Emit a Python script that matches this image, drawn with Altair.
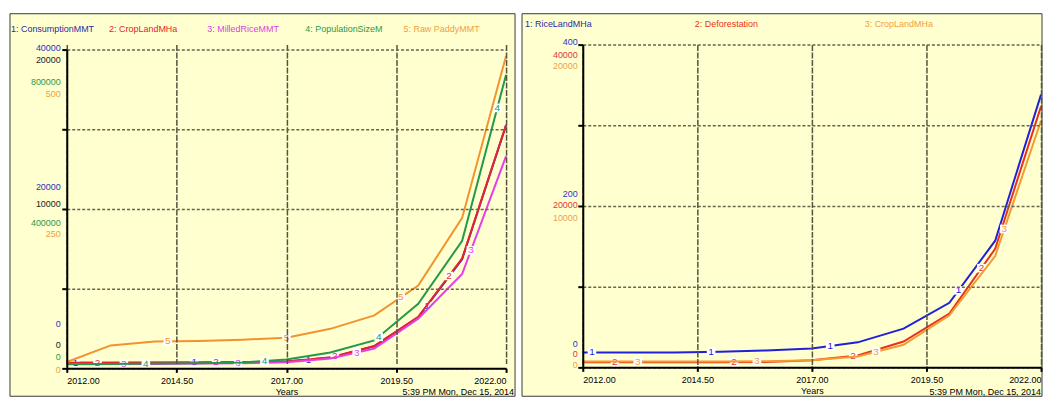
import altair as alt
import pandas as pd

years = [2012, 2013, 2014, 2015, 2016, 2017, 2018, 2019, 2020, 2021, 2022]

# ---- left panel series ----
left_names = ["1: ConsumptionMMT", "2: CropLandMHa", "3: MilledRiceMMT",
              "4: PopulationSizeM", "5: Raw PaddyMMT"]
consumption = [700, 710, 720, 740, 760, 860, 1350, 2780, 6400, 13700, 30500]
cropland = [360, 360, 365, 370, 380, 435, 680, 1400, 3230, 6900, 15280]
milled_rice = [7, 7, 7, 7.5, 8, 9.5, 15.5, 31, 78, 148, 333]
population = [10000, 11000, 12000, 13000, 15000, 22000, 40000, 70000, 162000, 320000, 737000]
raw_paddy = [10, 36, 42, 43, 45, 48, 62, 83, 130, 236, 490]

# ---- right panel series ----
right_names = ["1: RiceLandMHa", "2: Deforestation", "3: CropLandMHa"]
riceland = [18.5, 18.5, 18.5, 19.5, 21, 23.5, 31, 48, 80, 157, 338]
deforestation = [620, 620, 620, 630, 650, 870, 1480, 3200, 6670, 14700, 32350]

# scale label values
consumption_ticks = [0, 20000, 40000]
cropland_ticks = [0, 10000, 20000]
population_ticks = [0, 400000, 800000]
paddy_ticks = [0, 250, 500]
riceland_ticks = [0, 200, 400]
deforestation_ticks = [0, 20000, 40000]
x_ticks = [2012, 2014.5, 2017, 2019.5, 2022]
date_text = "5:39 PM  Mon, Dec 15, 2014"

# times where the numbered markers sit on each line
left_marks = [[2012.2, 2014.9, 2017.5, 2020.2], [2012.7, 2015.4, 2018.1, 2020.7],
              [2013.3, 2015.9, 2018.6, 2021.2], [2013.8, 2016.5, 2019.1, 2021.8],
              [2014.3, 2017.0, 2019.6]]
right_marks = [[2012.2, 2014.8, 2017.4, 2020.2], [2012.7, 2015.3, 2017.9, 2020.7],
               [2013.2, 2015.8, 2018.4, 2021.2]]

FONT = "Liberation Sans, Arial, sans-serif"
BG = "#FFFFD0"
GRID = "#66664c"


def x_axis():
    return alt.Axis(values=x_ticks, format=".2f", title="Years", grid=True,
                    gridColor="#55553f", gridDash=[6, 1.5], gridWidth=1.5,
                    domainColor="black", domainWidth=2, tickColor="black", tickSize=4,
                    tickWidth=2, labelFont=FONT, labelFontSize=9, labelColor="black",
                    labelPadding=4, labelFlush=True, labelOverlap=False,
                    titleFont=FONT, titleFontSize=9, titleFontWeight="normal",
                    titleColor="black", titlePadding=2, zindex=1)


def main_y_axis(values):
    return alt.Axis(orient="left", values=values, labels=False, title=None,
                    ticks=True, tickColor="black", tickSize=5, tickWidth=2,
                    domain=True, domainColor="black", domainWidth=2,
                    grid=True, gridColor=GRID, gridDash=[3, 2], gridWidth=1.5, zindex=1)


def series_layers(values, color, num, marks, domain, H, top, ylabels=None, label_color=None,
                  lab_x=-6, yaxis=None, xaxis=None):
    df = pd.DataFrame({"year": years, "v": values})
    recs = df.to_dict("records")
    xs = alt.Scale(domain=[2012, 2022], nice=False, zero=False)
    ys = alt.Scale(domain=domain, nice=False, zero=False, range=[H, top])
    if xaxis is None:
        xenc = alt.X("year:Q", scale=xs, axis=None)
    else:
        xenc = alt.X("year:Q", scale=xs, axis=xaxis)
    if yaxis is None:
        yenc = alt.Y("v:Q", scale=ys, axis=None)
    else:
        yenc = alt.Y("v:Q", scale=ys, axis=yaxis)
    layers = [alt.Chart(df).mark_line(color=color, strokeWidth=2).encode(x=xenc, y=yenc)]
    lab = (alt.Chart(pd.DataFrame({"t": marks}))
           .transform_calculate(y0="floor(datum.t)", y1="floor(datum.t) + 1")
           .transform_lookup(lookup="y0", from_=alt.LookupData(
               data=alt.InlineData(values=recs), key="year", fields=["v"]), as_=["v0"])
           .transform_lookup(lookup="y1", from_=alt.LookupData(
               data=alt.InlineData(values=recs), key="year", fields=["v"]), as_=["v1"])
           .transform_calculate(lv="datum.v0 + (datum.t - datum.y0) * (datum.v1 - datum.v0)"))
    enc = dict(x=alt.X("t:Q", scale=xs, axis=None), y=alt.Y("lv:Q", scale=ys, axis=None))
    layers.append(lab.mark_square(size=75, color="white", opacity=1).encode(**enc))
    layers.append(lab.mark_text(text=str(num), color=color, font=FONT, fontSize=10).encode(**enc))
    if ylabels:
        for val, dy in ylabels:
            layers.append(alt.Chart(pd.DataFrame({"val": [val]})).mark_text(
                align="right", baseline="middle", dy=dy, color=label_color,
                font=FONT, fontSize=9).encode(
                x=alt.value(lab_x), y=alt.Y("val:Q", scale=ys, axis=None),
                text=alt.Text("val:Q", format="d")))
    return layers


def panel(series, names, hcolors, W, H, rect, hrange, hy, date_x, date_y, date_align):
    bg = alt.Chart(pd.DataFrame({"k": [0]})).mark_rect(
        fill=BG, stroke="#3a3a3a", strokeWidth=1).encode(
        x=alt.value(rect[0]), x2=alt.value(W + rect[1]),
        y=alt.value(rect[2]), y2=alt.value(H + rect[3]))
    n = len(names)
    hdr = alt.Chart(pd.DataFrame({"i": list(range(n)), "name": names})).mark_text(
        align="left", baseline="middle", font=FONT, fontSize=9).encode(
        x=alt.X("i:Q", scale=alt.Scale(domain=[0, n - 1], range=hrange), axis=None),
        y=alt.value(hy), text="name:N",
        color=alt.Color("name:N", scale=alt.Scale(domain=names, range=hcolors), legend=None))
    dt = alt.Chart(pd.DataFrame({"s": [date_text]})).mark_text(
        align=date_align, baseline="middle", font=FONT, fontSize=9, color="black").encode(
        x=alt.value(date_x), y=alt.value(date_y), text="s:N")
    flat = []
    for s in series:
        flat.extend(s)
    return alt.layer(bg, *flat, hdr, dt).resolve_scale(
        x="independent", y="independent", color="independent").properties(width=W, height=H)


LW, LH, LTOP = 441, 325, 5
left_series = [
    series_layers(consumption, "#2a2ad6", 1, left_marks[0], [0, 40000], LH, LTOP,
                  list(zip(consumption_ticks, [-45, -22, -2])), "#3030c0",
                  yaxis=main_y_axis([0, 10000, 20000, 30000, 40000]), xaxis=x_axis()),
    series_layers(cropland, "#e8242a", 2, left_marks[1], [0, 20000], LH, LTOP,
                  list(zip(cropland_ticks, [-23, -5, 10])), "#222222"),
    series_layers(milled_rice, "#e83ce8", 3, left_marks[2], [0, 500], LH, LTOP),
    series_layers(population, "#23994a", 4, left_marks[3], [0, 800000], LH, LTOP,
                  list(zip(population_ticks, [-11, 14, 33])), "#2a9a4a"),
    series_layers(raw_paddy, "#f39330", 5, left_marks[4], [0, 500], LH, LTOP,
                  list(zip(paddy_ticks, [2, 25, 45])), "#f0a040"),
]
left = panel(left_series, left_names,
             ["#2b2ba0", "#e8242a", "#e040e0", "#2a9a4a", "#f0a040"],
             LW, LH, (-57, 9, -31, 28), [-56, 338], -16, LW + 8, LH + 24, "right")

RW, RH = 460, 324
right_series = [
    series_layers(riceland, "#2020d8", 1, right_marks[0], [0, 400], RH, 0,
                  list(zip(riceland_ticks, [-23, -12, -3])), "#3333cc", lab_x=-5,
                  yaxis=main_y_axis([0, 100, 200, 300, 400]), xaxis=x_axis()),
    series_layers(deforestation, "#e8321e", 2, right_marks[1], [0, 40000], RH, 0,
                  list(zip(deforestation_ticks, [-13, -1, 10])), "#e03a3a", lab_x=-5),
    series_layers(cropland, "#f59a2e", 3, right_marks[2], [0, 20000], RH, 0,
                  list(zip(cropland_ticks, [-2, 12, 21])), "#f0a050", lab_x=-5),
]
right = panel(right_series, right_names, ["#2b2ba0", "#e8321e", "#f0a040"],
              RW, RH, (-61, 1, -31, 29), [-58, 283], -21, RW, RH + 25, "right")

chart = alt.hconcat(left, right, spacing=5).properties(
    padding={"left": 1, "top": 4, "right": 0, "bottom": 0}, background="white"
).configure_view(stroke=None)

chart.save("out.html", embed_options={"renderer": "svg", "actions": False})
